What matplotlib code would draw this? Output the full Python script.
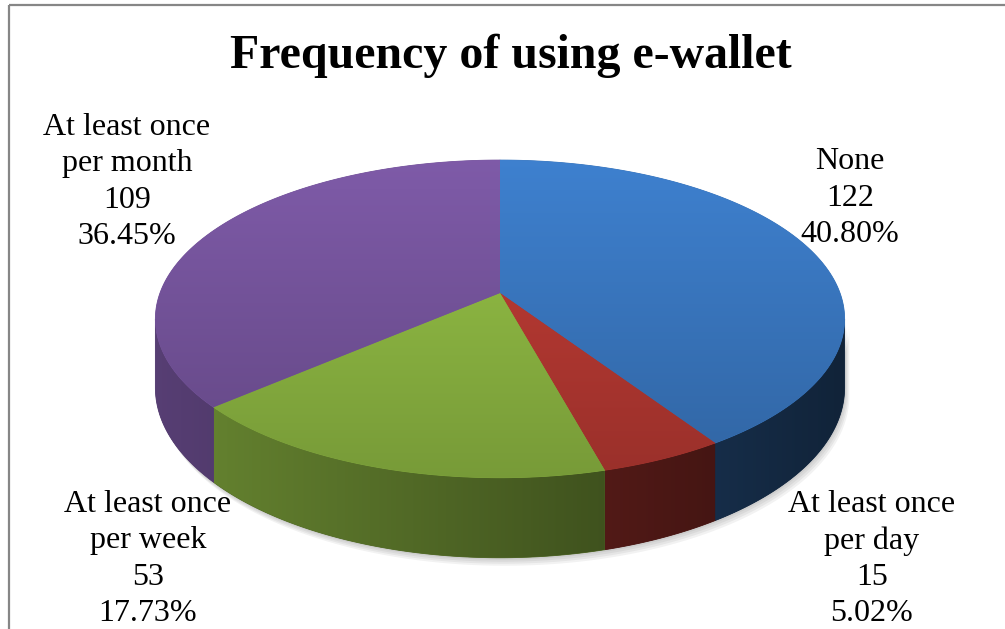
import numpy as np
import matplotlib.pyplot as plt
from matplotlib.patches import Polygon, Rectangle
from matplotlib.colors import to_rgb

categories = ['None', 'At least once\nper day', 'At least once\nper week', 'At least once\nper month']
counts = [122, 15, 53, 109]
top_colors = ['#3d7ecb', '#c03c35', '#95c146', '#7c59a5']
title = 'Frequency of using e-wallet'

# label centres in pixels
label_pos = [(850, 198), (872, 559), (148, 559), (127, 182)]

W, H = 1005, 629
fig = plt.figure(figsize=(W / 100, H / 100), dpi=100)
ax = fig.add_axes([0, 0, 1, 1])
ax.axis('off')

# pie geometry (pixels): centre, radii, perspective factor and thickness
cx, cy = 500, 293
rx, ry = 340, 154.6
k = 0.163
depth = 67


def project(theta, z=0.0):
    # theta measured clockwise from 12 o'clock, z=0 top face, z=1 bottom
    u = np.sin(theta)
    v = -np.cos(theta)
    s = 1.0 / (1.0 - k * v)
    return cx + rx * u * s, cy + ry * v * s + depth * z * s


def grad_fill(verts, colors_fn, axis, zorder):
    poly = Polygon(verts, closed=True, facecolor='none', edgecolor='none', zorder=zorder)
    ax.add_patch(poly)
    x0, x1 = verts[:, 0].min(), verts[:, 0].max()
    y0, y1 = verts[:, 1].min(), verts[:, 1].max()
    n = 200
    if axis == 'y':
        ys = np.linspace(y0, y1, n)
        img = colors_fn(ys)[:, None, :]
    else:
        xs = np.linspace(x0, x1, n)
        img = colors_fn(xs)[None, :, :]
    im = ax.imshow(img, extent=(x0, x1, y1, y0), origin='upper', aspect='auto',
                   interpolation='bilinear', zorder=zorder)
    im.set_clip_path(poly)
    # solid underlay keeps the polygon edge smooth
    flat = img.reshape(-1, 3)
    mid = flat[len(flat) // 2]
    ax.add_patch(Polygon(verts, closed=True, facecolor=mid, edgecolor=mid, lw=0.6,
                         zorder=zorder - 0.5))


total = sum(counts)
fracs = np.array(counts) / total
bounds = np.concatenate([[0], np.cumsum(fracs)]) * 2 * np.pi

# silhouette angles of the rim (leftmost / rightmost points)
th = np.linspace(0, 2 * np.pi, 3601)
xs_rim, _ = project(th)
th_right = th[np.argmax(xs_rim)]
th_left = th[np.argmin(xs_rim)]

# soft shadow under the front rim
tt = np.linspace(th_right, th_left, 200)
for i in range(4):
    off = 2 + 2 * i
    bx, by = project(tt, 1.0)
    tx, ty = project(tt[::-1], 0.0)
    sh = np.column_stack([np.concatenate([bx, tx]) + off * 0.6,
                          np.concatenate([by, ty]) + off])
    ax.add_patch(Polygon(sh, closed=True, facecolor='black', edgecolor='none',
                         alpha=0.05, zorder=1))

# rim sides, only the front-facing part
for i, col in enumerate(top_colors):
    a0 = max(bounds[i], th_right)
    a1 = min(bounds[i + 1], th_left)
    if a1 <= a0:
        continue
    t = np.linspace(a0, a1, 120)
    tx, ty = project(t, 0.0)
    bx, by = project(t[::-1], 1.0)
    verts = np.column_stack([np.concatenate([tx, bx]), np.concatenate([ty, by])])
    base = np.array(to_rgb(col))

    def side_col(x, base=base):
        f = 0.70 - 0.42 * (x - 157) / 686
        return np.clip(base[None, :] * f[:, None], 0, 1)

    grad_fill(verts, side_col, 'x', zorder=3)

# top faces with a light-to-dark vertical gradient
for i, col in enumerate(top_colors):
    t = np.linspace(bounds[i], bounds[i + 1], 200)
    px, py = project(t, 0.0)
    verts = np.column_stack([np.concatenate([[cx], px]), np.concatenate([[cy], py])])
    base = np.array(to_rgb(col))

    def top_col(y, base=base):
        f = 1.02 - 0.22 * (y - 160) / 320
        return np.clip(base[None, :] * f[:, None], 0, 1)

    grad_fill(verts, top_col, 'y', zorder=5)

# data labels
for name, n, f, (lx, ly) in zip(categories, counts, fracs, label_pos):
    ax.text(lx, ly, f'{name}\n{n}\n{f * 100:.2f}%', ha='center', va='center',
            multialignment='center', fontsize=23, family='Liberation Serif',
            linespacing=1.33, zorder=10)

ax.text(511, 56, title, ha='center', va='center', fontsize=34.5,
        fontweight='bold', family='Liberation Serif', zorder=10)

# chart area border
ax.add_patch(Rectangle((9, 5), 1200, 800, fill=False, edgecolor='#868686', lw=1.6, zorder=11))

ax.set_xlim(0, W)
ax.set_ylim(H, 0)
fig.savefig('out.png', dpi=100, facecolor='white')
